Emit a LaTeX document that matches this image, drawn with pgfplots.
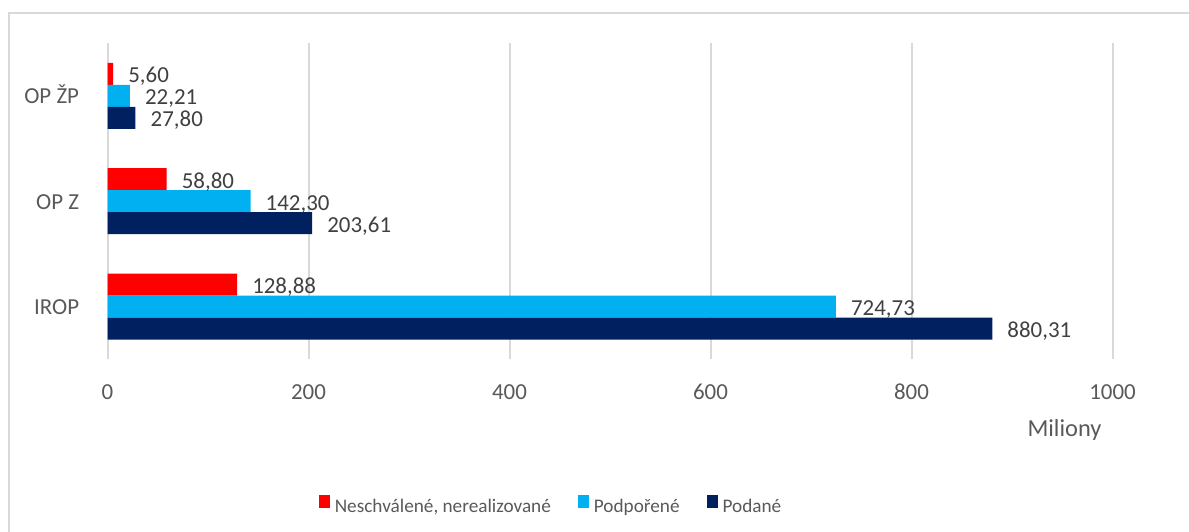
\documentclass[border=0pt]{standalone}
\usepackage{pgfplots}
\pgfplotsset{compat=1.18}
\usepackage{fontspec}
\setmainfont{Carlito}
\definecolor{cred}{HTML}{FF0000}
\definecolor{cblue}{HTML}{00B0F0}
\definecolor{cnavy}{HTML}{002060}
\definecolor{tgray}{HTML}{595959}
\definecolor{lgray}{HTML}{404040}
\definecolor{gridc}{HTML}{D9D9D9}
\newcommand\f{\fontsize{23}{27}\selectfont}
\newcommand\fl{\fontsize{19.3}{23}\selectfont}
\begin{document}
\begin{tikzpicture}[x=1bp,y=1bp]
\useasboundingbox (0,0) rectangle (1189,532);
\draw[gridc, line width=1.5bp] (9,-20) rectangle (1210,519);
\begin{axis}[
  at={(107,164)}, anchor=south west,
  scale only axis, width=1005bp, height=316bp,
  xbar, xmin=0, xmax=1000, ymin=-0.5, ymax=2.5,
  bar width=22bp,
  axis line style={draw=none},
  tick style={draw=none},
  xmajorgrids, major grid style={gridc, line width=2bp},
  xtick={0,200,400,600,800,1000},
  xticklabels={0,200,400,600,800,1000},
  ytick={0,1,2},
  yticklabels={IROP,OP Z,OP ŽP},
  xticklabel style={font=\f, text=tgray, anchor=base, inner sep=0pt, yshift=-40bp},
  yticklabel style={font=\f, text=tgray, anchor=base east, inner sep=0pt, xshift=-24bp, yshift=-8bp},
  point meta=x,
  nodes near coords={\pgfmathprintnumber[fixed,fixed zerofill,precision=2,use comma,assume math mode=true]{\pgfplotspointmeta}},
  nodes near coords style={font=\f, text=lgray, anchor=base west, inner sep=0pt, xshift=15bp, yshift=-9bp},
  legend style={at={(0.4403,-0.4589)}, anchor=center, draw=none, fill=none,
    font=\fl, text=tgray, legend columns=-1,
    nodes={inner sep=0pt},
    /tikz/every odd column/.append style={column sep=5bp},
    /tikz/every even column/.append style={column sep=27bp}},
  legend image code/.code={\fill[#1] (0bp,-1bp) rectangle (11bp,12bp);},
]
\addplot[fill=cred, draw=none, bar shift=22bp] coordinates {(128.88,0) (58.80,1) (5.60,2)};
\addlegendentry{Neschválené, nerealizované}
\addplot[fill=cblue, draw=none, bar shift=0bp] coordinates {(724.73,0) (142.30,1) (22.21,2)};
\addlegendentry{Podpořené}
\addplot[fill=cnavy, draw=none, bar shift=-22bp] coordinates {(880.31,0) (203.61,1) (27.80,2)};
\addlegendentry{Podané}
\end{axis}
\node[font=\fontsize{24.5}{28}\selectfont, text=tgray, anchor=base] at (1064.5,95) {Miliony};
\end{tikzpicture}
\end{document}
